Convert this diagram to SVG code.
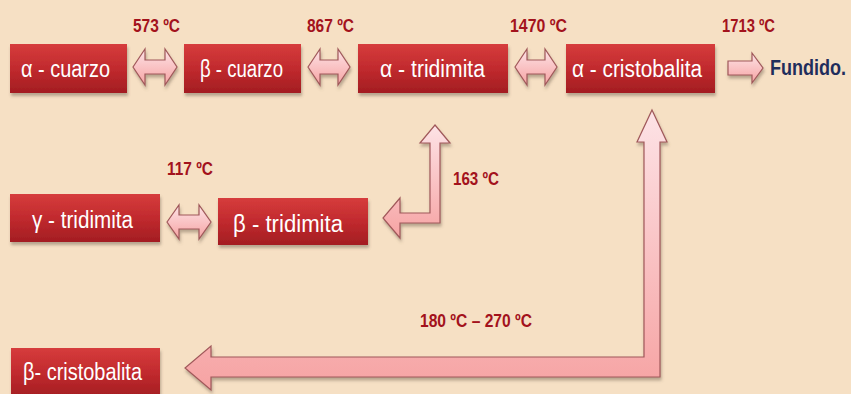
<svg xmlns="http://www.w3.org/2000/svg" width="851" height="394" viewBox="0 0 851 394">
<defs>
<linearGradient id="boxg" x1="0" y1="0" x2="0" y2="1">
<stop offset="0" stop-color="#d63c3c"/>
<stop offset="0.5" stop-color="#c12a2e"/>
<stop offset="1" stop-color="#a31d22"/>
</linearGradient>
<linearGradient id="arrg" x1="0" y1="0" x2="0" y2="1">
<stop offset="0" stop-color="#fde3e6"/>
<stop offset="1" stop-color="#f6a3a3"/>
</linearGradient>
<filter id="sh" x="-10%" y="-20%" width="120%" height="150%">
<feDropShadow dx="1" dy="3" stdDeviation="1.5" flood-color="#6b5a4a" flood-opacity="0.45"/>
</filter>
</defs>
<style>
.box{fill:url(#boxg);filter:url(#sh);}
.lbl{font-family:"Liberation Sans","DejaVu Sans",sans-serif;font-size:23px;fill:#ffffff;}
.tmp{font-family:"Liberation Sans","DejaVu Sans",sans-serif;font-size:19px;font-weight:bold;fill:#a3121c;}
.arr{fill:url(#arrg);stroke:#a0585a;stroke-width:1.2;filter:url(#sh);stroke-linejoin:miter;}
.fin{font-family:"Liberation Sans","DejaVu Sans",sans-serif;font-size:22px;font-weight:bold;fill:#1f2d5c;}
</style>
<rect width="851" height="394" fill="#f6e0c4"/>

<g id="connectors">
<path class="arr" d="M133,67 L145,49 L145,60 L165,60 L165,49 L177,67 L165,85 L165,74 L145,74 L145,85 Z"/>
<path class="arr" d="M308,67 L320,49 L320,60 L338,60 L338,49 L350,67 L338,85 L338,74 L320,74 L320,85 Z"/>
<path class="arr" d="M515,67 L527,49 L527,60 L545,60 L545,49 L557,67 L545,85 L545,74 L527,74 L527,85 Z"/>
<path class="arr" d="M728,61 L752,61 L752,53 L763,68 L752,83 L752,75 L728,75 Z"/>
<path class="arr" d="M167,222 L179,205 L179,215 L199,215 L199,205 L211,222 L199,239 L199,229 L179,229 L179,239 Z"/>
<path class="arr" d="M435,125 L450,143 L440,143 L440,223 L400,223 L400,238 L383,218 L400,198 L400,213 L430,213 L430,143 L420,143 Z"/>
<path class="arr" d="M652,110 L667,142 L660,142 L660,377 L211,377 L211,390 L185,368 L211,346 L211,357 L644,357 L644,142 L637,142 Z"/>
</g>

<g id="labels">
<text class="tmp" x="133" y="32" textLength="47" lengthAdjust="spacingAndGlyphs">573 ºC</text>
<text class="tmp" x="307" y="32" textLength="47" lengthAdjust="spacingAndGlyphs">867 ºC</text>
<text class="tmp" x="510" y="32" textLength="57" lengthAdjust="spacingAndGlyphs">1470 ºC</text>
<text class="tmp" x="722" y="32" textLength="53" lengthAdjust="spacingAndGlyphs">1713 ºC</text>
<text class="tmp" x="167" y="175" textLength="46" lengthAdjust="spacingAndGlyphs">117 ºC</text>
<text class="tmp" x="453" y="185" textLength="46" lengthAdjust="spacingAndGlyphs">163 ºC</text>
<text class="tmp" x="420" y="327" textLength="112" lengthAdjust="spacingAndGlyphs">180 ºC – 270 ºC</text>
</g>

<g id="alpha-cuarzo">
<rect class="box" x="10" y="44" width="117" height="49"/>
<text class="lbl" x="21" y="77" textLength="89" lengthAdjust="spacingAndGlyphs">α - cuarzo</text>
</g>
<g id="beta-cuarzo">
<rect class="box" x="184" y="44" width="117" height="49"/>
<text class="lbl" x="200" y="77" textLength="83" lengthAdjust="spacingAndGlyphs">β - cuarzo</text>
</g>
<g id="alpha-tridimita">
<rect class="box" x="358" y="44" width="150" height="49"/>
<text class="lbl" x="380" y="77" textLength="105" lengthAdjust="spacingAndGlyphs">α - tridimita</text>
</g>
<g id="alpha-cristobalita">
<rect class="box" x="566" y="44" width="149" height="49"/>
<text class="lbl" x="572" y="77" textLength="130" lengthAdjust="spacingAndGlyphs">α - cristobalita</text>
</g>
<g id="fundido">
<text class="fin" transform="translate(770,75) scale(0.82,1)" x="0" y="0">Fundido.</text>
</g>
<g id="gamma-tridimita">
<rect class="box" x="10" y="194" width="150" height="48"/>
<text class="lbl" x="32" y="228" textLength="101" lengthAdjust="spacingAndGlyphs">γ - tridimita</text>
</g>
<g id="beta-tridimita">
<rect class="box" x="218" y="198" width="150" height="47"/>
<text class="lbl" x="233" y="232" textLength="110" lengthAdjust="spacingAndGlyphs">β - tridimita</text>
</g>
<g id="beta-cristobalita">
<rect class="box" x="11" y="348" width="149" height="50"/>
<text class="lbl" x="23" y="380" textLength="119" lengthAdjust="spacingAndGlyphs">β- cristobalita</text>
</g>
</svg>
